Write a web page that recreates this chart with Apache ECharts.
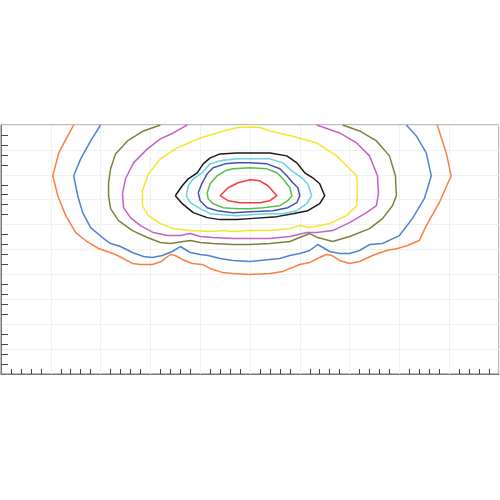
<!DOCTYPE html>
<html><head><meta charset="utf-8">
<script src="https://cdn.jsdelivr.net/npm/echarts@6/dist/echarts.min.js"></script>
<style>html,body{margin:0;padding:0;background:#fff}#c{width:500px;height:500px}</style>
</head><body><div id="c"></div>
<script>
// contour levels, outermost to innermost; each is a list of [x, y] points
const orange = [[73,250],[67,239],[58,222],[52,199],[57,179],[65,159],[75,142],[85,134],[98,126],[115,120],[132,111],[140,110],[152,110],[161,113],[170,120],[175,119],[182,115],[192,111],[202,110],[210,106],[222,102],[233,101],[250,100],[270,101],[283,103],[300,110],[310,112],[322,118],[327,120],[332,119],[340,114],[350,111],[360,113],[373,119],[387,124],[398,126],[408,129],[420,134],[427,149],[440,172],[452,199],[447,222],[438,250]];
const blue = [[100,250],[90,234],[80,216],[73,199],[77,179],[82,162],[90,147],[103,136],[110,131],[120,128],[132,122],[143,118],[152,117],[162,119],[172,123],[180,128],[190,122],[200,120],[208,119],[220,116],[233,114],[250,113],[280,116],[290,119],[300,121],[310,124],[318,130],[330,123],[340,121],[350,121],[360,124],[370,130],[383,131],[400,139],[413,156],[425,176],[432,199],[427,222],[417,239],[407,250]];
const olive = [[160,250],[143,244],[127,234],[115,221],[110,206],[108,192],[108,179],[110,166],[118,154],[132,144],[147,137],[160,132],[170,131],[183,133],[190,134],[200,132],[213,131],[233,130],[250,130],[270,131],[290,133],[305,139],[310,141],[318,137],[333,133],[350,138],[370,146],[383,156],[393,169],[397,179],[396,199],[390,219],[377,234],[360,244],[343,250]];
const magenta = [[187,250],[173,242],[160,236],[147,226],[133,212],[125,196],[122,181],[123,167],[130,157],[140,149],[153,142],[167,139],[180,139],[190,141],[200,138],[213,137],[233,136],[250,136],[270,136],[290,138],[307,142],[317,142],[333,144],[350,152],[367,162],[377,169],[379,182],[378,199],[370,219],[357,232],[340,242],[317,250]];
const yellow = [[250,248],[238,247.5],[227,245],[200,237],[177,227],[160,216],[148,201],[142,184],[142,169],[148,159],[160,151],[173,146],[190,144],[210,143],[223,144],[233,143],[250,144],[270,144],[290,146],[300,149],[310,147],[330,151],[347,159],[357,169],[358,186],[357,199],[350,206],[337,219],[317,232],[292,239],[270,244],[260,247.5],[250,248]];
const black = [[175,179],[182,189],[188,196],[197,202],[203,211],[210,217],[220,221],[237,222],[250,222],[270,222],[287,219],[297,212],[305,202],[313,197],[320,191],[325,179],[320,171],[308,164],[293,161],[277,158],[250,156],[237,155],[220,155],[207,157],[193,162],[182,171],[175,179]];
const cyan = [[186,179],[188,189],[193,196],[202,202],[210,211],[220,214],[237,216],[250,216],[270,216],[283,212],[292,204],[302,197],[308,191],[312,179],[307,171],[297,164],[283,161],[267,161],[250,160],[237,159],[223,160],[210,161],[200,166],[190,172],[186,179]];
const darkblue = [[198,182],[202,192],[207,201],[213,207],[225,211],[237,212],[250,212],[267,211],[280,206],[287,199],[293,192],[298,187],[300,179],[297,172],[288,167],[273,164],[250,163],[233,162],[217,164],[207,167],[200,174],[198,182]];
const green = [[207,182],[210,191],[217,199],[225,204],[233,206],[250,207],[267,206],[277,202],[283,196],[290,187],[292,179],[288,174],[280,169],[263,167],[250,166],[237,166],[223,167],[213,171],[208,176],[207,182]];
const red = [[220,179],[228,187],[238,192],[250,195],[260,194],[268,189],[277,179],[270,174],[260,172],[250,172],[240,172],[228,174],[220,179]];

const levels = [orange, blue, olive, magenta, yellow, black, cyan, darkblue, green, red];
const colors = ['#fb7f45', '#4f83d0', '#7f7f3c', '#c462c0', '#f4e62a', '#1a1a1a', '#6cd0e6', '#3f50b2', '#58c04a', '#f03c3c'];

const chart = echarts.init(document.getElementById('c'));
chart.setOption({
  animation: false,
  grid: {left: 1, right: 1, top: 125, bottom: 126, show: true, borderColor: '#777', borderWidth: 1},
  xAxis: {
    type: 'value', min: 0, max: 500, interval: 50,
    axisLine: {show: true, lineStyle: {color: '#777'}},
    axisLabel: {show: false},
    axisTick: {show: false, inside: true},
    minorTick: {show: true, splitNumber: 5, length: 5, lineStyle: {color: '#444'}},
    splitLine: {show: true, lineStyle: {color: '#f0f0f0'}}
  },
  yAxis: [{
    type: 'value', min: 0, max: 250, interval: 50,
    axisLine: {show: true, lineStyle: {color: '#777'}},
    axisLabel: {show: false},
    axisTick: {show: false, inside: true},
    minorTick: {show: true, splitNumber: 5, length: 7, lineStyle: {color: '#444'}},
    splitLine: {show: false}
  }, {
    type: 'value', min: 0, max: 250, interval: 25, position: 'left',
    axisLine: {show: false}, axisLabel: {show: false}, axisTick: {show: false},
    splitLine: {show: true, lineStyle: {color: '#f0f0f0'}}
  }],
  series: levels.map((d, i) => ({
    type: 'line', data: d, showSymbol: false, symbol: 'none', smooth: false,
    lineStyle: {color: colors[i], width: 1.5}, clip: true, z: 3
  }))
});
</script></body></html>
